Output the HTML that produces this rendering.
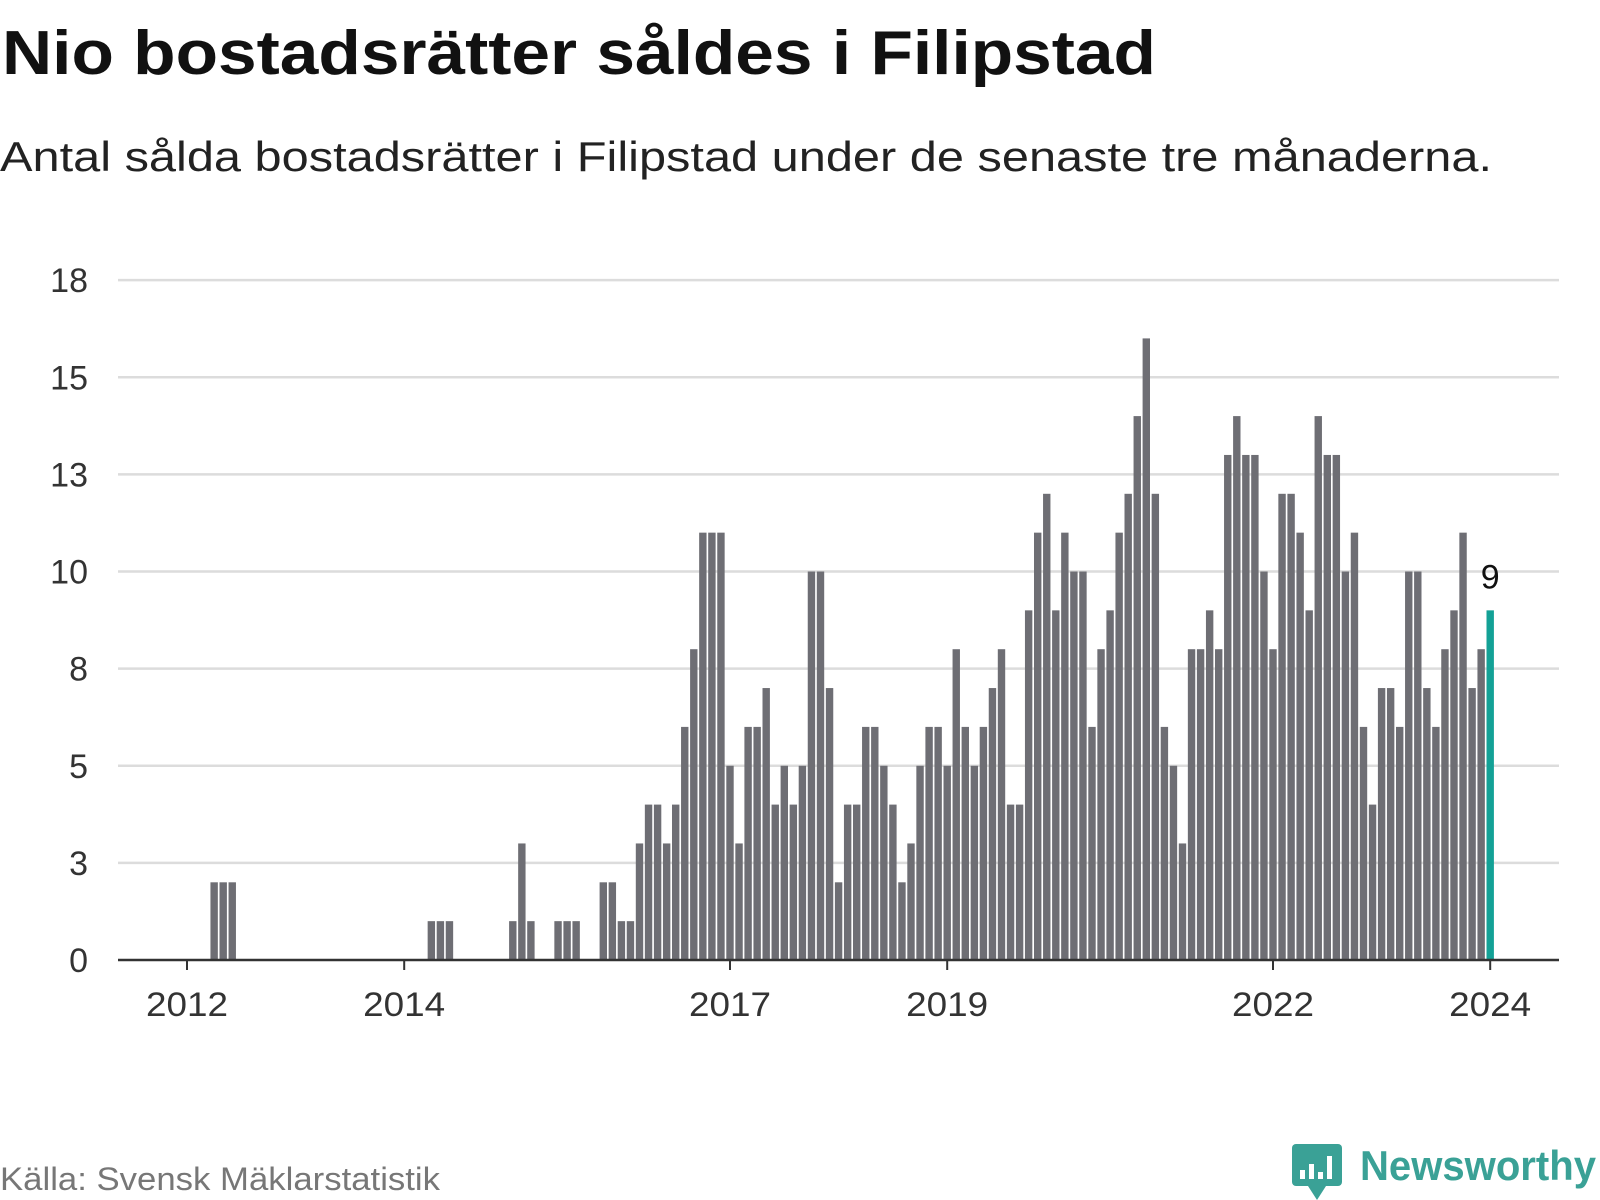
<!DOCTYPE html>
<html><head><meta charset="utf-8"><style>
body{margin:0;background:#fff;width:1600px;height:1200px;overflow:hidden;font-family:"Liberation Sans",sans-serif}
</style></head><body>
<svg width="1600" height="1200" style="position:absolute;left:0;top:0">
<text x="2" y="74" font-size="62" font-weight="bold" fill="#111" textLength="1154" lengthAdjust="spacingAndGlyphs">Nio bostadsrätter såldes i Filipstad</text>
<text x="0" y="171" font-size="42" fill="#222" textLength="1492" lengthAdjust="spacingAndGlyphs">Antal sålda bostadsrätter i Filipstad under de senaste tre månaderna.</text>
<g id="grid"></g><g id="bars"></g><g id="axis"></g>
<text x="0" y="1190" font-size="32" fill="#777" textLength="440" lengthAdjust="spacingAndGlyphs">Källa: Svensk Mäklarstatistik</text>
<g>
<rect x="1292" y="1144" width="50" height="42" rx="4" fill="#3aa196"/>
<polygon points="1308,1186 1326,1186 1317,1200" fill="#3aa196"/>
<rect x="1300" y="1170" width="5" height="9" fill="#fff"/><rect x="1309" y="1164" width="5" height="15" fill="#fff"/><rect x="1318" y="1172" width="5" height="7" fill="#fff"/><rect x="1327" y="1156" width="5" height="23" fill="#fff"/>
<text x="1360" y="1180" font-size="42" font-weight="bold" fill="#3aa196" textLength="236" lengthAdjust="spacingAndGlyphs">Newsworthy</text>
</g>
</svg>
<script>
const values=[0,0,0,2,2,2,0,0,0,0,0,0,0,0,0,0,0,0,0,0,0,0,0,0,0,0,0,1,1,1,0,0,0,0,0,0,1,3,1,0,0,1,1,1,0,0,
2,2,1,1,3,4,4,3,4,6,8,11,11,11,5,3,6,6,7,4,5,4,5,10,10,7,2,4,4,6,6,5,4,2,3,5,6,6,5,8,6,5,6,7,8,4,4,9,
11,12,9,11,10,10,6,8,9,11,12,14,16,12,6,5,3,8,8,9,8,13,14,13,13,10,8,12,12,11,9,14,13,13,10,11,6,4,7,7,6,10,10,7,6,8,9,11,7,8,9];
const yTicks=[0,2.5,5,7.5,10,12.5,15,17.5];
const yTickLabels=["0","3","5","8","10","13","15","18"];
const xTickMonths=[0,24,60,84,120,144];
const xTickLabels=["2012","2014","2017","2019","2022","2024"];
const NS="http://www.w3.org/2000/svg";
const x0=187,pitch=9.05,bw=7.4,base=960,unit=38.85,left=118,right=1559;
const xs=i=>x0+pitch*i, ys=v=>base-v*unit;
function mk(t,a,p){const e=document.createElementNS(NS,t);for(const k in a)e.setAttribute(k,a[k]);p.appendChild(e);return e;}
const grid=document.getElementById('grid'),bars=document.getElementById('bars'),axis=document.getElementById('axis');
yTicks.forEach((v,k)=>{
 if(v>0){const l=mk('line',{x1:left,x2:right,y1:ys(v),y2:ys(v),stroke:'#dcdcdc','stroke-width':2.5},grid);
 
 }
 const t=mk('text',{x:88,y:ys(v)+12,'font-size':34,fill:'#333','text-anchor':'end'},grid);
 t.textContent=yTickLabels[k];
 
 
});
values.forEach((v,i)=>{
 const last=i===values.length-1;
 const r=mk('rect',{x:xs(i)-bw/2,y:ys(v),width:bw,height:v*unit,fill:last?'#13a196':'#6e6e74'},bars);
 
 
 if(last){const t=mk('text',{x:xs(i),y:ys(v)-22,'font-size':34,fill:'#111','text-anchor':'middle'},bars);
 t.textContent=String(v);
 
 }
});
const ax=mk('line',{x1:left,x2:right,y1:base,y2:base,stroke:'#333','stroke-width':2.5},axis);


xTickMonths.forEach((m,k)=>{
 const tk=mk('line',{x1:xs(m),x2:xs(m),y1:base,y2:base+10,stroke:'#333','stroke-width':2},axis);
 
 
 const t=mk('text',{x:xs(m),y:1016,'font-size':34,fill:'#333','text-anchor':'middle','textLength':82,'lengthAdjust':'spacingAndGlyphs'},axis);
 t.textContent=xTickLabels[k];
 
 
});
</script>
</body></html>
